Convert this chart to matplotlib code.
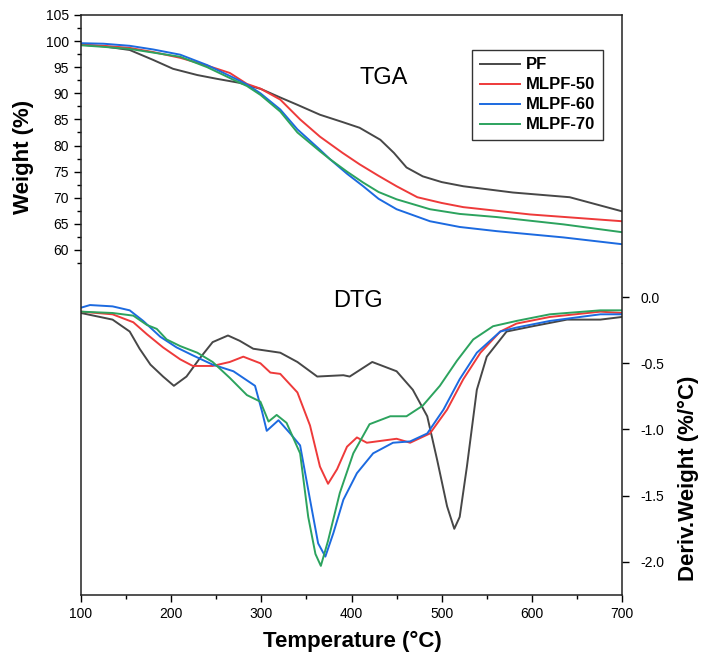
import matplotlib
matplotlib.use("Agg")
import matplotlib.pyplot as plt
from matplotlib.ticker import MultipleLocator

plt.rcParams['font.family'] = ['Liberation Sans', 'DejaVu Sans']

names = ['PF', 'MLPF-50', 'MLPF-60', 'MLPF-70']
colors = ['#474747', '#ee3a3a', '#1c6ae0', '#2ca35e']

# TGA curves (temperature degC, weight %)
pf_t = [100, 125, 154, 180, 202, 229, 250, 276, 300, 321, 340, 365, 390, 409, 432, 447, 461,
        479, 500, 524, 579, 642, 700]
pf_w = [99.3, 99.0, 98.3, 96.4, 94.7, 93.5, 92.8, 92.0, 90.8, 89.2, 87.8, 85.9, 84.5, 83.4,
        81.1, 78.6, 75.8, 74.1, 73.0, 72.2, 71.0, 70.1, 67.4]
m50_t = [100, 125, 154, 180, 210, 240, 265, 284, 299, 321, 343, 365, 390, 409, 430, 450, 473,
         500, 524, 598, 700]
m50_w = [99.3, 99.1, 98.7, 97.9, 96.8, 95.3, 93.9, 91.8, 90.9, 88.8, 85.0, 81.7, 78.6, 76.4,
         74.2, 72.2, 70.1, 69.0, 68.2, 66.8, 65.5]
m60_t = [100, 125, 154, 180, 210, 240, 269, 284, 299, 321, 340, 365, 376, 395, 413, 430, 450,
         487, 520, 561, 635, 700]
m60_w = [99.6, 99.5, 99.1, 98.4, 97.4, 95.4, 93.0, 91.7, 90.0, 86.9, 83.1, 79.2, 77.4, 74.6,
         72.2, 69.8, 67.8, 65.5, 64.4, 63.6, 62.4, 61.1]
m70_t = [100, 125, 154, 180, 210, 240, 269, 284, 299, 321, 340, 365, 376, 395, 413, 430, 450,
         487, 520, 561, 635, 700]
m70_w = [99.2, 98.9, 98.5, 97.8, 97.0, 95.0, 92.6, 91.4, 89.7, 86.5, 82.5, 78.9, 77.4, 75.0,
         72.9, 71.1, 69.7, 67.8, 66.9, 66.3, 64.9, 63.4]

# DTG curves (temperature degC, %/degC)
pf_dt = [100, 135, 154, 165, 177, 191, 203, 217, 232, 246, 263, 276, 291, 321, 340, 362,
         391, 398, 423, 450, 468, 484, 495, 506, 514, 520, 528, 539, 550, 572, 601, 639, 676, 700]
pf_d = [-0.12, -0.17, -0.26, -0.39, -0.51, -0.60, -0.67, -0.60, -0.46, -0.34, -0.29, -0.33,
        -0.39, -0.42, -0.49, -0.60, -0.59, -0.60, -0.49, -0.56, -0.70, -0.90, -1.23, -1.58,
        -1.75, -1.66, -1.28, -0.70, -0.45, -0.26, -0.22, -0.17, -0.17, -0.15]
m50_dt = [100, 135, 158, 173, 191, 210, 224, 246, 265, 280, 299, 310, 321, 340, 354, 365,
          374, 384, 395, 406, 417, 450, 465, 487, 506, 524, 543, 565, 583, 620, 676, 700]
m50_d = [-0.11, -0.13, -0.19, -0.28, -0.38, -0.47, -0.52, -0.52, -0.49, -0.45, -0.50, -0.57,
         -0.58, -0.72, -0.97, -1.28, -1.41, -1.30, -1.13, -1.06, -1.10, -1.07, -1.10, -1.03,
         -0.85, -0.62, -0.42, -0.26, -0.20, -0.15, -0.11, -0.12]
m60_dt = [100, 110, 135, 154, 169, 188, 206, 224, 246, 269, 293, 301, 306, 319, 332, 343,
          354, 363, 371, 380, 391, 406, 424, 446, 465, 484, 502, 520, 539, 565, 583, 620, 676, 700]
m60_d = [-0.08, -0.06, -0.07, -0.10, -0.18, -0.30, -0.38, -0.44, -0.51, -0.56, -0.67, -0.87,
         -1.01, -0.93, -1.03, -1.12, -1.53, -1.86, -1.96, -1.78, -1.53, -1.33, -1.18, -1.10,
         -1.09, -1.03, -0.85, -0.62, -0.42, -0.26, -0.23, -0.18, -0.13, -0.13]
m70_dt = [100, 135, 158, 173, 184, 195, 210, 229, 246, 265, 284, 299, 308, 317, 328, 343,
          352, 360, 366, 374, 387, 402, 420, 443, 461, 479, 498, 517, 535, 557, 583, 620, 676, 700]
m70_d = [-0.11, -0.12, -0.14, -0.21, -0.24, -0.32, -0.37, -0.42, -0.49, -0.61, -0.74, -0.79,
         -0.94, -0.89, -0.95, -1.18, -1.66, -1.94, -2.03, -1.84, -1.48, -1.18, -0.96, -0.90,
         -0.90, -0.82, -0.67, -0.48, -0.32, -0.22, -0.18, -0.13, -0.10, -0.10]

tga = [(pf_t, pf_w), (m50_t, m50_w), (m60_t, m60_w), (m70_t, m70_w)]
dtg = [(pf_dt, pf_d), (m50_dt, m50_d), (m60_dt, m60_d), (m70_dt, m70_d)]

fig = plt.figure(figsize=(7.02, 6.55), dpi=100)
ax1 = fig.add_axes([81/702, 1-263/655, 541/702, 248/655])
ax2 = fig.add_axes([81/702, 1-595/655, 541/702, 331/655], sharex=ax1)

for (t, w), name, c in zip(tga, names, colors):
    ax1.plot(t, w, color=c, lw=1.4, label=name)
for (t, d), c in zip(dtg, colors):
    ax2.plot(t, d, color=c, lw=1.4)

ax1.set_xlim(100, 700)
ax1.set_ylim(57.5, 105)
ax2.set_ylim(-2.25, 0.25)

# top panel: left axis only
ax1.spines['bottom'].set_visible(False)
ax1.tick_params(axis='x', which='both', bottom=False, labelbottom=False)
ax1.set_yticks([60, 65, 70, 75, 80, 85, 90, 95, 100, 105])
ax1.yaxis.set_minor_locator(MultipleLocator(2.5))
ax1.tick_params(axis='y', which='major', direction='out', length=5, width=1, labelsize=10)
ax1.tick_params(axis='y', which='minor', direction='out', length=3, width=1)

# bottom panel: right axis and x axis
ax2.spines['top'].set_visible(False)
ax2.yaxis.tick_right()
ax2.set_yticks([0.0, -0.5, -1.0, -1.5, -2.0])
ax2.set_yticklabels(['0.0', '-0.5', '-1.0', '-1.5', '-2.0'])
ax2.tick_params(axis='y', which='major', direction='out', length=5, width=1, labelsize=10, pad=8)
ax2.set_xticks([100, 200, 300, 400, 500, 600, 700])
ax2.xaxis.set_minor_locator(MultipleLocator(50))
ax2.tick_params(axis='x', which='major', direction='out', length=5, width=1, labelsize=10)
ax2.tick_params(axis='x', which='minor', direction='out', length=3, width=1)

for ax in (ax1, ax2):
    for s in ax.spines.values():
        s.set_linewidth(1.1)
        s.set_color('#222222')

leg = ax1.legend(loc='upper right', bbox_to_anchor=(0.965, 0.859), borderaxespad=0,
                 fancybox=False, edgecolor='black', handlelength=2.4, handletextpad=0.4,
                 borderpad=0.45, labelspacing=0.3,
                 prop={'weight': 'bold', 'size': 12})
leg.get_frame().set_linewidth(1.0)

fig.text(360/702, 1-84/655, 'TGA', fontsize=17, ha='left', va='baseline')
fig.text(333/702, 1-307/655, 'DTG', fontsize=17, ha='left', va='baseline')

fig.text(23/702, 1-157/655, 'Weight (%)', rotation=90, fontsize=16, fontweight='bold',
         ha='center', va='center')
fig.text(352/702, 1-641/655, 'Temperature (°C)', fontsize=16, fontweight='bold',
         ha='center', va='center')
fig.text(688/702, 1-478/655, 'Deriv.Weight (%/°C)', rotation=90, fontsize=16, fontweight='bold',
         ha='center', va='center')

fig.savefig('out.png', dpi=100)
